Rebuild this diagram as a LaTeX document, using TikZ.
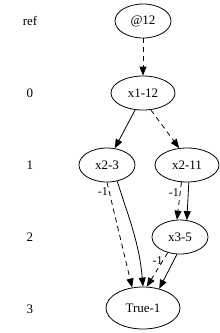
\documentclass[tikz,border=0pt]{standalone}
\usepackage{fontspec}
\setmainfont{Liberation Serif}
\usetikzlibrary{shapes.geometric,arrows.meta}

\tikzset{
  bddnode/.style={draw, ellipse, line width=0.8pt, inner sep=0pt, minimum width=56pt, minimum height=34pt, font=\fontsize{13}{15}\selectfont},
  levellabel/.style={font=\fontsize{13}{15}\selectfont},
  hiedge/.style={->, line width=0.8pt},
  loedge/.style={->, line width=0.8pt, dash pattern=on 5pt off 4pt},
  neglabel/.style={font=\fontsize{12}{14}\selectfont, inner sep=1pt}
}

\begin{document}
\begin{tikzpicture}[x=1pt, y=-1pt, >={Triangle[length=9pt,width=7pt]}]
        \useasboundingbox (0, 0) rectangle (220, 333);

        % Level labels
        \node[levellabel] (lref) at (30, 21) {ref};
        \node[levellabel] (l0) at (30, 93) {0};
        \node[levellabel] (l1) at (30, 165) {1};
        \node[levellabel] (l2) at (30, 237) {2};
        \node[levellabel] (l3) at (30, 309) {3};

        % Nodes
        \node[bddnode] (root) at (143, 21) {@12};
        \node[bddnode, minimum width=64pt] (x112) at (143, 93) {x1-12};
        \node[bddnode] (x23) at (107, 165) {x2-3};
        \node[bddnode, minimum width=64pt] (x211) at (187, 165) {x2-11};
        \node[bddnode] (x35) at (180, 237) {x3-5};
        \node[bddnode, minimum width=74pt, minimum height=42pt] (true) at (143, 308) {True-1};

        % Edges
        \draw[loedge] (root) -- (x112);
        \draw[hiedge] (x112.-115) -- (x23.65);
        \draw[loedge] (x112.-65) -- (x211.115);
        % x2-3
        \draw[loedge] (x23.-90) -- node[neglabel, pos=0.09, left] (n23) {-1} (true.118);
        \draw[hiedge] (x23.-58) to[out=-72, in=95] (true.90);
        % x2-11
        \draw[loedge] (x211.-108) -- node[neglabel, pos=0.27, left] (n211) {-1} (x35.100);
        \draw[hiedge] (x211.-84) -- (x35.68);
        % x3-5
        \draw[loedge] (x35.-128) -- node[neglabel, pos=0.22, left, xshift=1pt] (n35) {-1} (true.80);
        \draw[hiedge] (x35.-100) -- (true.50);
    \end{tikzpicture}
\end{document}
